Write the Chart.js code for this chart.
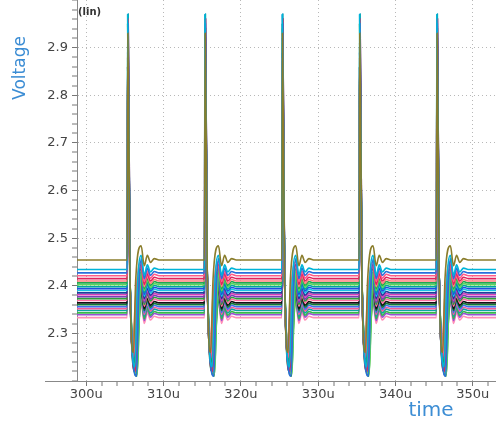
<!DOCTYPE html>
<html>
<head>
<meta charset="utf-8">
<script src="https://cdn.jsdelivr.net/npm/chart.js@4"></script>
<style>
  html, body { margin: 0; padding: 0; background: #fff; }
  #wrap { width: 496px; height: 422px; }
</style>
</head>
<body>
<div id="wrap"><canvas id="chart" width="496" height="422"></canvas></div>
<script>
// Dati (tensione in V, tempo in u)
const spikeTimes = [305.3, 315.3, 325.3, 335.3, 345.3];
const levels  = [2.454, 2.434, 2.427, 2.421, 2.415, 2.410, 2.406, 2.402, 2.398, 2.394, 2.390, 2.385,
                 2.381, 2.377, 2.373, 2.369, 2.364, 2.360, 2.356, 2.352, 2.348, 2.343, 2.339, 2.333];
const colors  = ['#8a7d2c', '#00b4d8', '#2a6fdb', '#ff5c8a', '#e0245e', '#ff7f7f', '#1fa84f', '#5cd65c',
                 '#00a99d', '#1f4fe0', '#19c3e6', '#203a9c', '#d63fb8', '#7a3db8', '#2e9e3e', '#ff6fa0',
                 '#111111', '#0f7a3a', '#3f6ff0', '#f25c9a', '#0fa3a3', '#36b84a', '#9b4fd6', '#ff8fb8'];
const peaks   = [2.93, 2.97, 2.95, 2.90, 2.96, 2.88, 2.94, 2.91, 2.97, 2.89, 2.95, 2.92,
                 2.87, 2.96, 2.90, 2.93, 2.86, 2.94, 2.97, 2.91, 2.88, 2.95, 2.92, 2.90];
const dipMins = [2.26, 2.23, 2.21, 2.25, 2.22, 2.27, 2.24, 2.215, 2.26, 2.23, 2.22, 2.25,
                 2.28, 2.24, 2.21, 2.26, 2.23, 2.22, 2.25, 2.27, 2.24, 2.22, 2.26, 2.23];
const dipTimes = [0.80, 1.00, 1.20, 0.85, 1.05, 0.75, 0.95, 1.30, 0.80, 1.00, 1.15, 0.90,
                  0.75, 0.95, 1.25, 0.80, 1.10, 1.00, 0.85, 0.75, 0.95, 1.15, 0.80, 1.05];
const peakTimes = [0.08, 0.05, 0.10, 0.06, 0.12, 0.04, 0.09, 0.07, 0.11, 0.05, 0.08, 0.10,
                   0.06, 0.12, 0.07, 0.09, 0.04, 0.11, 0.08, 0.06, 0.10, 0.05, 0.09, 0.07];
const fallTime = 0.35;     // discesa del picco
const fallValue = 2.42;
const riseDelay = 0.3;     // risalita dopo il minimo
const riseDelta = -0.04;
const ringOffsets = [1.8, 2.2, 2.6, 3.0, 3.5, 4.1];
const ringDeltas  = [0.03, -0.012, 0.01, -0.005, 0.003, 0];
const xStart = 298.8, xEnd = 353;
const xMajor = [300, 310, 320, 330, 340, 350];
const yMajor = [2.3, 2.4, 2.5, 2.6, 2.7, 2.8, 2.9];

// Costruzione dei dataset
const datasets = levels.map((L, i) => {
    const pts = [{ x: xStart, y: L }];
    spikeTimes.forEach(s => {
        pts.push({ x: s, y: L });
        pts.push({ x: s + peakTimes[i], y: peaks[i] });
        pts.push({ x: s + fallTime, y: fallValue });
        pts.push({ x: s + dipTimes[i], y: dipMins[i] });
        pts.push({ x: s + dipTimes[i] + riseDelay, y: L + riseDelta });
        ringOffsets.forEach((o, k) => pts.push({ x: s + o, y: L + ringDeltas[k] }));
    });
    pts.push({ x: xEnd, y: L });
    return {
        data: pts,
        borderColor: colors[i],
        borderWidth: 1.6,
        pointRadius: 0,
        cubicInterpolationMode: 'monotone',
        fill: false
    };
});

const near = (v, list) => list.some(m => Math.abs(m - v) < 1e-6);

// Testi extra (etichette degli assi)
const labelsPlugin = {
    id: 'labels',
    afterDraw(chart) {
        const ctx = chart.ctx;
        const bottom = chart.chartArea.bottom;
        ctx.save();
        // prolungamento dell'asse x a sinistra
        ctx.strokeStyle = '#888';
        ctx.lineWidth = 1;
        ctx.beginPath();
        ctx.moveTo(45, bottom + 0.5);
        ctx.lineTo(chart.chartArea.left, bottom + 0.5);
        ctx.stroke();

        ctx.fillStyle = '#3c8dd4';
        ctx.font = '17px "DejaVu Sans"';
        ctx.textAlign = 'center';
        ctx.textBaseline = 'middle';
        ctx.save();
        ctx.translate(21, 68);
        ctx.rotate(-Math.PI / 2);
        ctx.fillText('Voltage', 0, 0);
        ctx.restore();
        ctx.font = '20px "DejaVu Sans"';
        ctx.fillText('time', 431, 411);
        ctx.fillStyle = '#333';
        ctx.font = 'bold 10px "DejaVu Sans"';
        ctx.textAlign = 'left';
        ctx.fillText('(lin)', 78, 12);
        ctx.restore();
    }
};

const xTicks = [];
for (let v = 300; v <= 352; v += 2) xTicks.push(v);
const yTicks = [];
for (let k = 0; k <= 40; k++) yTicks.push(Math.round((2.2 + k * 0.02) * 100) / 100);

new Chart(document.getElementById('chart'), {
    type: 'line',
    data: { datasets },
    options: {
        responsive: false,
        animation: false,
        layout: { padding: 0 },
        plugins: { legend: { display: false }, tooltip: { enabled: false } },
        scales: {
            x: {
                type: 'linear',
                min: xStart,
                max: xEnd,
                afterBuildTicks: s => { s.ticks = xTicks.map(v => ({ value: v })); },
                afterFit: s => { s.height = 41; s.paddingLeft = 0; s.paddingRight = 0; },
                grid: {
                    color: c => (c.tick && near(c.tick.value, xMajor)) ? '#b8b8b8' : 'rgba(0,0,0,0)',
                    lineWidth: c => (c.tick && near(c.tick.value, xMajor)) ? 1 : 0,
                    tickColor: '#777',
                    tickWidth: 1,
                    tickLength: 5,
                    tickBorderDash: []
                },
                border: { color: '#888', width: 1, dash: [1, 3] },
                ticks: {
                    autoSkip: false,
                    maxRotation: 0,
                    padding: 1,
                    color: '#444',
                    font: { family: 'DejaVu Sans', size: 13 },
                    callback: v => near(v, xMajor) ? Math.round(v) + 'u' : ''
                }
            },
            y: {
                type: 'linear',
                min: 2.2,
                max: 3.0,
                afterBuildTicks: s => { s.ticks = yTicks.map(v => ({ value: v })); },
                afterFit: s => { s.width = 77; s.paddingTop = 0; s.paddingBottom = 0; },
                grid: {
                    color: c => (c.tick && near(c.tick.value, yMajor)) ? '#b8b8b8' : 'rgba(0,0,0,0)',
                    lineWidth: c => (c.tick && near(c.tick.value, yMajor)) ? 1 : 0,
                    tickColor: '#777',
                    tickWidth: 1,
                    tickLength: 5,
                    tickBorderDash: []
                },
                border: { color: '#888', width: 1, dash: [1, 3] },
                ticks: {
                    autoSkip: false,
                    padding: 4,
                    color: '#444',
                    font: { family: 'DejaVu Sans', size: 13 },
                    callback: v => near(v, yMajor) ? v.toFixed(1) : ''
                }
            }
        }
    },
    plugins: [labelsPlugin]
});
</script>
</body>
</html>
